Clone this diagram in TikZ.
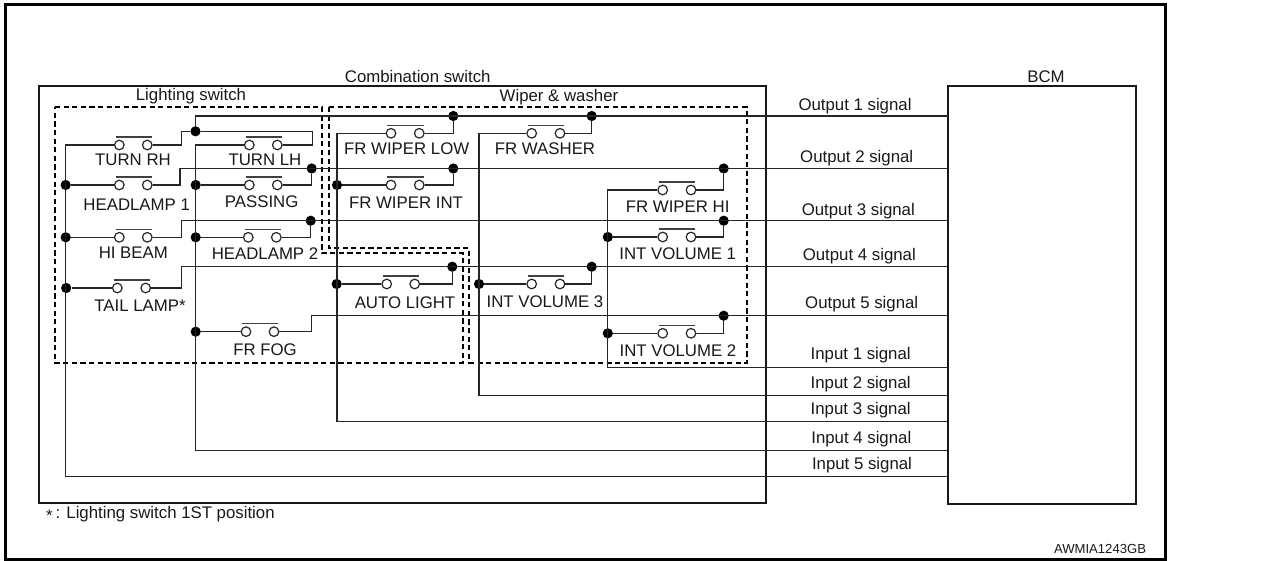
\documentclass[tikz,border=0pt]{standalone}
\usepackage{fontspec}
\setmainfont{Liberation Sans}
\tikzset{
  wire/.style={line width=1.2pt,color=black!85},
  box/.style={draw=black!90,line width=2pt,fill=none,outer sep=0pt},
  zone/.style={draw=black,line width=2pt,dash pattern=on 5.2pt off 3.4pt},
  dot/.style={circle,fill=black,draw=none,minimum size=10.2pt,inner sep=0pt},
  term/.style={circle,draw=black!85,fill=white,line width=1.2pt,minimum size=9.6pt,inner sep=0pt},
  swbar/.style={line width=1.2pt,color=black!75},
  lbl/.style={inner sep=0pt,yshift=-1.4pt,font=\fontsize{16.8}{20}\selectfont,text=black!90},
  caplbl/.style={lbl,yshift=0.8pt},
}
\newcommand{\swt}[4]{%
  \node[term] (#1-a) at (#2,#4) {};
  \node[term] (#1-b) at (#3,#4) {};
  \draw[swbar] ([shift={(-3.6,-8)}]#1-a.center) -- ([shift={(4.4,-8)}]#1-b.center);
}
\begin{document}
\begin{tikzpicture}[x=1pt,y=-1pt]
\useasboundingbox (0,0) rectangle (1275,561);
\fill[white] (0,0) rectangle (1275,561);
% frame
\draw[line width=3pt,line join=miter] (5.5,4.5) rectangle (1165.7,559.3);
% blocks
\node[box,minimum width=727.5pt,minimum height=416.7pt,inner sep=0pt,anchor=north west] (comb) at (38.5,86) {};
\node[box,minimum width=188pt,minimum height=417.5pt,inner sep=0pt,anchor=north west] (bcm) at (948,86.5) {};
% zones
\draw[zone] (55,107) -- (321.7,107) -- (321.7,253.3) -- (462.7,253.3) -- (462.7,362.7) -- (55,362.7) -- cycle;
\draw[zone] (329,107) -- (746.7,107) -- (746.7,362.7) -- (469.3,362.7) -- (469.3,248.3) -- (329,248.3) -- cycle;
% switches
\swt{tr}{119.3}{147.3}{145}
\swt{tl}{249.3}{277.3}{145}
\swt{hla}{119.3}{147.3}{185}
\swt{pas}{249.3}{277.3}{185}
\swt{hi}{119.3}{147.3}{237.3}
\swt{hlb}{248.3}{276.3}{237.3}
\swt{tail}{117.3}{145.7}{288}
\swt{fog}{246}{274}{331.7}
\swt{low}{391}{419.3}{133.3}
\swt{wash}{531.7}{560}{133.3}
\swt{int}{391}{419.3}{185}
\swt{whi}{662.7}{691}{190}
\swt{va}{662.7}{691}{237}
\swt{auto}{386.7}{414.7}{284}
\swt{vc}{531.7}{560}{284}
\swt{vb}{662.7}{691}{333.3}
% junction dots
\node[dot] (dtop) at (195.5,131.3) {};
\node[dot] (dhla) at (65.7,185) {};
\node[dot] (dhi) at (65.7,237.3) {};
\node[dot] (dtail) at (66.2,288) {};
\node[dot] (dpas) at (195.7,185) {};
\node[dot] (dhlb) at (195.7,237.3) {};
\node[dot] (dfog) at (195.7,331.7) {};
\node[dot] (dint) at (337,185) {};
\node[dot] (dauto) at (336.7,284) {};
\node[dot] (dvc) at (479,284) {};
\node[dot] (dva) at (607.8,237) {};
\node[dot] (dvb) at (607.8,333.3) {};
\node[dot] (olow) at (453.3,116) {};
\node[dot] (owash) at (591.7,116) {};
\node[dot] (opas) at (311.7,168.5) {};
\node[dot] (oint) at (453.3,168.5) {};
\node[dot] (ohi) at (723.7,168.5) {};
\node[dot] (ohlb) at (310.7,220.7) {};
\node[dot] (ova) at (723.7,220.7) {};
\node[dot] (oauto) at (452.3,266.7) {};
\node[dot] (ovc) at (591.7,266.7) {};
\node[dot] (ovb) at (723.7,315.7) {};
% elbows and ends
\coordinate (jtop) at (195.5,116);
\coordinate (jtr) at (181.7,131.3);
\coordinate (jtl) at (312.3,131.3);
\coordinate (jhla) at (180,168.5);
\coordinate (jhi) at (181.7,220.7);
\coordinate (jtail) at (181.7,266.7);
\coordinate (jfog) at (311.7,315.7);
\coordinate (k5) at (65.7,476.7);
\coordinate (k4) at (195.7,450.7);
\coordinate (k3) at (337,421.3);
\coordinate (k2) at (479,395.3);
\coordinate (k1) at (607.3,367.7);
\foreach \n/\y in {o1/116,o2/168.5,o3/220.7,o4/266.7,o5/315.7,i1/367.7,i2/395.3,i3/421.3,i4/450.7,i5/476.7}
  \coordinate (\n) at (948,\y);
% output wires
\draw[wire] (dtop) -- (jtop) -- (o1);
\draw[wire] (tr-b) -| (jtr) -- (dtop) -- (jtl) |- (tl-b);
\draw[wire] (hla-b) -| (jhla) -- (o2);
\draw[wire] (hi-b) -| (jhi) -- (o3);
\draw[wire] (tail-b) -| (jtail) -- (o4);
\draw[wire] (fog-b) -| (jfog) -- (o5);
\draw[wire] (pas-b) -| (opas);
\draw[wire] (hlb-b) -| (ohlb);
\draw[wire] (low-b) -| (olow);
\draw[wire] (wash-b) -| (owash);
\draw[wire] (int-b) -| (oint);
\draw[wire] (whi-b) -| (ohi);
\draw[wire] (va-b) -| (ova);
\draw[wire] (auto-b) -| (oauto);
\draw[wire] (vc-b) -| (ovc);
\draw[wire] (vb-b) -| (ovb);
% input wires
\draw[wire] (tr-a) -| (k5) -- (i5);
\draw[wire] (tl-a) -| (k4) -- (i4);
\draw[wire] (low-a) -| (k3) -- (i3);
\draw[wire] (wash-a) -| (k2) -- (i2);
\draw[wire] (whi-a) -| (k1) -- (i1);
\draw[wire] (dhla) -- (hla-a);
\draw[wire] (dhi) -- (hi-a);
\draw[wire] (dtail) -- (tail-a);
\draw[wire] (dpas) -- (pas-a);
\draw[wire] (dhlb) -- (hlb-a);
\draw[wire] (dfog) -- (fog-a);
\draw[wire] (dint) -- (int-a);
\draw[wire] (dauto) -- (auto-a);
\draw[wire] (dvc) -- (vc-a);
\draw[wire] (dva) -- (va-a);
\draw[wire] (dvb) -- (vb-a);
% labels
\node[caplbl] (t1) at (133,159) {TURN RH};
\node[caplbl] (t2) at (265,159) {TURN LH};
\node[caplbl] (t3) at (136.7,204) {HEADLAMP 1};
\node[caplbl] (t4) at (261.7,200.7) {PASSING};
\node[caplbl] (t5) at (133.3,252.3) {HI BEAM};
\node[caplbl] (t6) at (265,252.7) {HEADLAMP 2};
\node[caplbl] (t7) at (140,305) {TAIL LAMP*};
\node[caplbl] (t8) at (265,349) {FR FOG};
\node[caplbl] (t9) at (406.7,148) {FR WIPER LOW};
\node[caplbl] (t10) at (545,148) {FR WASHER};
\node[caplbl] (t11) at (406,201.7) {FR WIPER INT};
\node[caplbl] (t12) at (677.7,205.7) {FR WIPER HI};
\node[caplbl] (t13) at (677.7,252.7) {INT VOLUME 1};
\node[caplbl] (t14) at (405,301.7) {AUTO LIGHT};
\node[caplbl] (t15) at (545,300.7) {INT VOLUME 3};
\node[caplbl] (t16) at (678,350) {INT VOLUME 2};
\node[lbl] (t17) at (191,95) {Lighting switch};
\node[lbl] (t18) at (559,96) {Wiper \& washer};
\node[lbl] (t19) at (417.7,75) {Combination switch};
\node[caplbl] (t20) at (1046,76.5) {BCM};
\node[lbl] (s1) at (855,105) {Output 1 signal};
\node[lbl] (s2) at (856.7,156.7) {Output 2 signal};
\node[lbl] (s3) at (858.3,210) {Output 3 signal};
\node[lbl] (s4) at (859.3,255) {Output 4 signal};
\node[lbl] (s5) at (861.7,302.3) {Output 5 signal};
\node[lbl] (s6) at (860.7,354) {Input 1 signal};
\node[lbl] (s7) at (860.7,382.7) {Input 2 signal};
\node[lbl] (s8) at (860.7,408.3) {Input 3 signal};
\node[lbl] (s9) at (861.3,437.3) {Input 4 signal};
\node[lbl] (s10) at (862,463.3) {Input 5 signal};
\node[lbl,anchor=west] (fn) at (46,512.7) {\raisebox{-3pt}{*}\,: Lighting switch 1ST position};
\node[caplbl,font=\fontsize{13.1}{16}\selectfont] (code) at (1100,548) {AWMIA1243GB};
\end{tikzpicture}
\end{document}
